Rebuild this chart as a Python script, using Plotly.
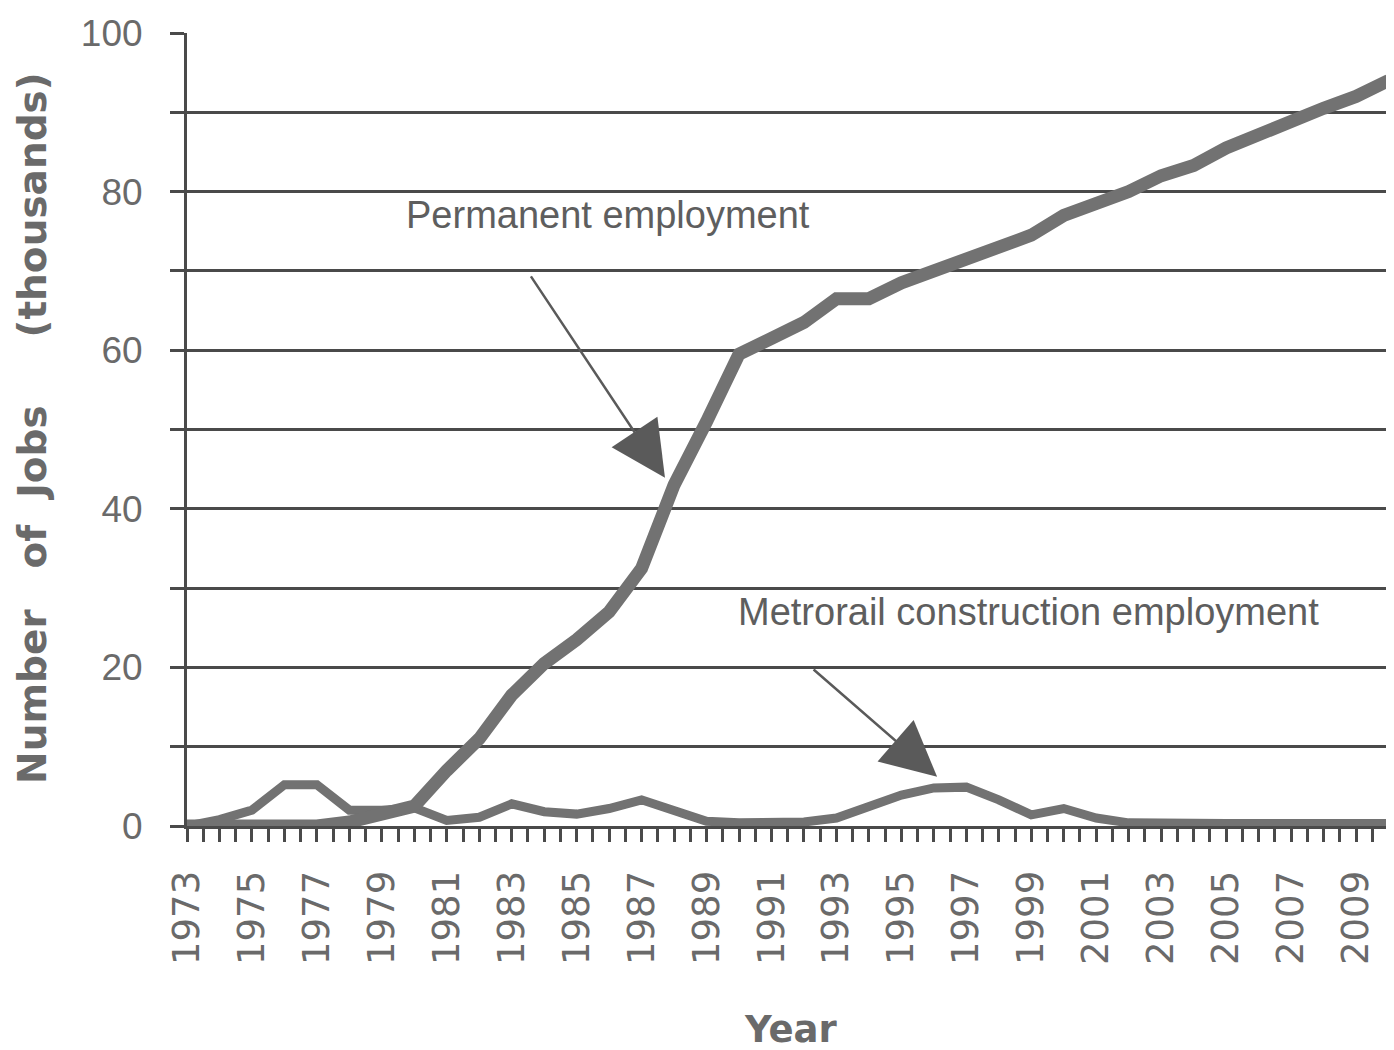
import plotly.graph_objects as go

years = list(range(1973, 2011))
permanent = [0, 0, 0, 0, 0, 0.5, 1.5, 2.5, 7, 11,
             16.5, 20.5, 23.5, 27, 32.5, 43, 51, 59.5, 61.5, 63.5,
             66.5, 66.5, 68.5, 70, 71.8, 73, 74.5, 77, 78.5, 80,
             82, 83.3, 85.5, 87.3, 89, 90.5, 92, 94]
metrorail = [0, 0.8, 2, 5.2, 5.2, 2, 2, 2.3, 0.7, 1.1,
             2.8, 1.8, 1.5, 2.2, 3.3, 2, 0.6, 0.4, 0.4, 0.5,
             1, 2.4, 3.9, 4.8, 4.9, 3.3, 1.4, 2.2, 1.0, 0.4,
             0.3, 0.3, 0.3, 0.3, 0.3, 0.3, 0.3, 0.3]
x_tick_years = list(range(1973, 2010, 2))
y_tick_vals = [0, 20, 40, 60, 80, 100]

LINE = "#727272"
GRID = "#4a4a4a"
TXT = "#6a6a6a"
NB = "\u00a0"

# page body has an 8px margin, so the figure is shifted; compensate
L, T, PW, PH = 179, 25, 1207, 793
W, H = 1386, 1042

fig = go.Figure()
fig.add_trace(go.Scatter(x=years, y=metrorail, mode="lines",
                         line=dict(color=LINE, width=9), cliponaxis=False,
                         name="Metrorail construction employment"))
fig.add_trace(go.Scatter(x=years, y=permanent, mode="lines",
                         line=dict(color=LINE, width=13), cliponaxis=False,
                         name="Permanent employment"))

fig.update_layout(
    width=W, height=H,
    margin=dict(l=L, r=W - L - PW, t=T, b=H - T - PH, autoexpand=False),
    paper_bgcolor="white", plot_bgcolor="white",
    showlegend=False,
    xaxis=dict(
        range=[1973, 2010.17],
        tickmode="array", tickvals=x_tick_years,
        ticktext=[str(y) for y in x_tick_years],
        tickangle=-90,
        tickfont=dict(family="DejaVu Sans", size=37, color=TXT),
        ticks="outside", ticklen=13, tickwidth=3, tickcolor=GRID,
        minor=dict(dtick=0.5, tick0=1973, ticks="outside", ticklen=13,
                   tickwidth=3, tickcolor=GRID, showgrid=False),
        showgrid=False, zeroline=False,
        showline=True, linecolor=GRID, linewidth=3,
        ticklabelstandoff=14,
    ),
    yaxis=dict(
        range=[0, 100],
        tickmode="array", tickvals=y_tick_vals,
        tickfont=dict(family="Liberation Sans", size=37, color=TXT),
        ticks="outside", ticklen=14, tickwidth=3, tickcolor=GRID,
        showgrid=True, gridcolor=GRID, gridwidth=3,
        minor=dict(dtick=10, tick0=0, ticks="outside", ticklen=14, tickwidth=3,
                   tickcolor=GRID, showgrid=True, gridcolor=GRID, gridwidth=3),
        zeroline=False,
        showline=True, linecolor=GRID, linewidth=3,
        ticklabelstandoff=20,
    ),
)


def px_to_paper(px, py):
    """reference-pixel position -> paper coordinates of the plot area"""
    return (px - 187) / PW, (826 - py) / PH


annots = [
    dict(text="Permanent employment", x=608, y=215),
    dict(text="Metrorail construction employment", x=1028, y=612),
]
for a in annots:
    xp, yp = px_to_paper(a["x"], a["y"])
    fig.add_annotation(text=a["text"], x=xp, y=yp, xref="paper", yref="paper",
                       showarrow=False, xanchor="center", yanchor="middle",
                       font=dict(family="Liberation Sans", size=38, color="#5e5e5e"))

# arrows (data coordinates)
arrows = [
    dict(tail=(1983.56, 69.5), tip=(1987.72, 43.9)),
    dict(tail=(1992.25, 19.9), tip=(1996.1, 6.2)),
]
for ar in arrows:
    fig.add_annotation(text="", x=ar["tip"][0], y=ar["tip"][1],
                       ax=ar["tail"][0], ay=ar["tail"][1],
                       xref="x", yref="y", axref="x", ayref="y",
                       showarrow=True, arrowhead=2, arrowsize=4.4, arrowwidth=2.5,
                       arrowcolor="#5a5a5a", standoff=0, startstandoff=0)

# axis titles
xp, yp = px_to_paper(790, 1030)
fig.add_annotation(text="Year", x=xp, y=yp, xref="paper", yref="paper",
                   showarrow=False, xanchor="center", yanchor="middle",
                   font=dict(family="DejaVu Sans", size=37, color=TXT, weight="bold"))
xp, yp = px_to_paper(33, 428)
ytitle = ("Number" + NB * 3 + "of" + NB * 2 + "Jobs" + NB * 5 + "(thousands)")
fig.add_annotation(text=ytitle, x=xp, y=yp, xref="paper", yref="paper",
                   showarrow=False, xanchor="center", yanchor="middle", textangle=-90,
                   font=dict(family="DejaVu Sans", size=39, color=TXT, weight="bold"))

fig.write_html("out.html")
